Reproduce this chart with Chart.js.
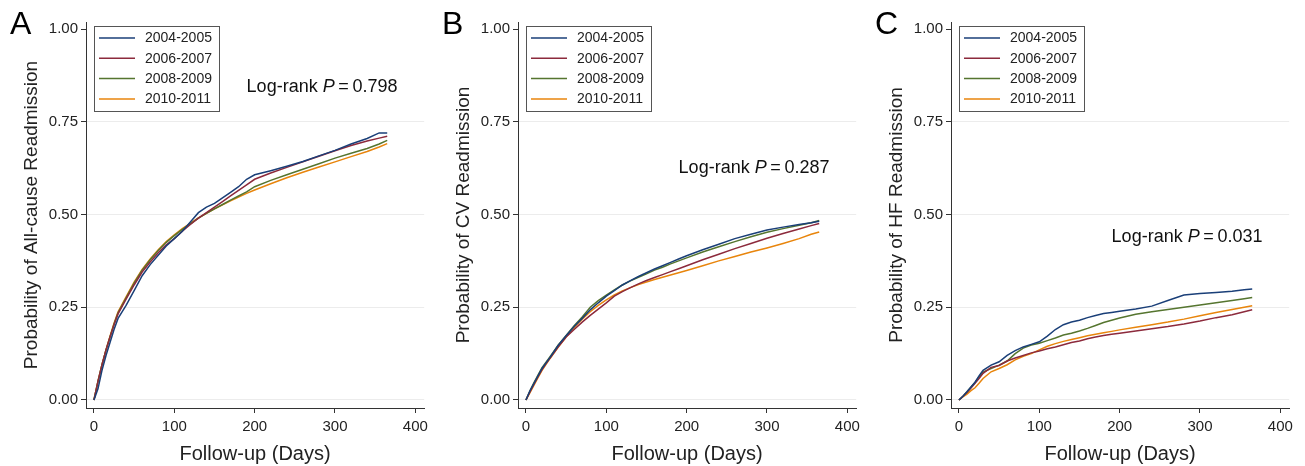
<!DOCTYPE html>
<html>
<head>
<meta charset="utf-8">
<script src="https://cdn.jsdelivr.net/npm/chart.js@4.4.1/dist/chart.umd.min.js"></script>
<style>
    body { margin: 0; background: #fff; }
    #wrap { position: relative; width: 1305px; height: 466px; }
    canvas { position: absolute; top: 0; }
</style>
</head>
<body>
<div id="wrap">
    <canvas id="chartA" width="433" height="466" style="left:0px"></canvas>
    <canvas id="chartB" width="433" height="466" style="left:432px"></canvas>
    <canvas id="chartC" width="433" height="466" style="left:865px"></canvas>
</div>
<script>
const days = [0, 5, 10, 15, 20, 25, 30, 40, 50, 60, 70, 80, 90, 100, 110, 120, 130, 140, 150, 160, 170, 180, 190, 200, 220, 240, 260, 280, 300, 320, 340, 355, 365];

const periods = ['2004-2005', '2006-2007', '2008-2009', '2010-2011'];
const xTicks = [0, 100, 200, 300, 400];
const yTicks = [0, 0.25, 0.5, 0.75, 1];

// A - all-cause readmission
const allCause0405 = [0, 0.03, 0.08, 0.12, 0.155, 0.19, 0.22, 0.255, 0.295, 0.335, 0.365, 0.39, 0.415, 0.435, 0.455, 0.48, 0.505, 0.52, 0.53, 0.545, 0.56, 0.575, 0.595, 0.607, 0.618, 0.63, 0.643, 0.658, 0.673, 0.69, 0.705, 0.72, 0.72];
const allCause0607 = [0, 0.05, 0.095, 0.135, 0.17, 0.203, 0.232, 0.272, 0.31, 0.345, 0.372, 0.397, 0.418, 0.435, 0.455, 0.473, 0.49, 0.505, 0.52, 0.535, 0.55, 0.565, 0.58, 0.595, 0.612, 0.627, 0.642, 0.657, 0.672, 0.686, 0.698, 0.706, 0.711];
const allCause0809 = [0, 0.05, 0.095, 0.135, 0.17, 0.205, 0.235, 0.275, 0.315, 0.35, 0.378, 0.403, 0.425, 0.443, 0.46, 0.475, 0.49, 0.503, 0.515, 0.527, 0.539, 0.55, 0.561, 0.575, 0.592, 0.607, 0.622, 0.637, 0.652, 0.665, 0.678, 0.69, 0.70];
const allCause1011 = [0, 0.05, 0.095, 0.135, 0.172, 0.207, 0.238, 0.278, 0.318, 0.352, 0.38, 0.405, 0.427, 0.445, 0.462, 0.477, 0.491, 0.503, 0.515, 0.526, 0.537, 0.547, 0.557, 0.566, 0.583, 0.599, 0.614, 0.628, 0.642, 0.656, 0.67, 0.682, 0.691];

// B - CV readmission
const cv0405 = [0, 0.025, 0.045, 0.065, 0.085, 0.1, 0.115, 0.147, 0.173, 0.198, 0.22, 0.243, 0.262, 0.28, 0.295, 0.31, 0.322, 0.333, 0.343, 0.353, 0.362, 0.371, 0.38, 0.389, 0.405, 0.42, 0.435, 0.447, 0.458, 0.466, 0.473, 0.478, 0.482];
const cv0607 = [0, 0.022, 0.043, 0.063, 0.082, 0.098, 0.113, 0.143, 0.17, 0.19, 0.21, 0.228, 0.245, 0.262, 0.28, 0.292, 0.303, 0.313, 0.322, 0.33, 0.338, 0.346, 0.354, 0.362, 0.378, 0.393, 0.408, 0.422, 0.436, 0.449, 0.461, 0.47, 0.476];
const cv0809 = [0, 0.025, 0.047, 0.067, 0.087, 0.102, 0.117, 0.148, 0.174, 0.2, 0.224, 0.25, 0.268, 0.283, 0.297, 0.31, 0.321, 0.331, 0.34, 0.35, 0.358, 0.367, 0.375, 0.383, 0.399, 0.413, 0.427, 0.44, 0.452, 0.462, 0.471, 0.478, 0.484];
const cv1011 = [0, 0.02, 0.04, 0.06, 0.08, 0.096, 0.112, 0.142, 0.17, 0.195, 0.218, 0.238, 0.255, 0.27, 0.283, 0.294, 0.303, 0.311, 0.318, 0.325, 0.331, 0.337, 0.343, 0.349, 0.362, 0.375, 0.387, 0.399, 0.41, 0.422, 0.435, 0.447, 0.453];

// C - HF readmission
const hf0405 = [0, 0.01, 0.022, 0.035, 0.048, 0.065, 0.08, 0.094, 0.103, 0.12, 0.133, 0.143, 0.15, 0.157, 0.172, 0.19, 0.203, 0.21, 0.215, 0.222, 0.228, 0.233, 0.236, 0.239, 0.245, 0.253, 0.268, 0.283, 0.287, 0.29, 0.293, 0.297, 0.299];
const hf0607 = [0, 0.01, 0.02, 0.032, 0.045, 0.058, 0.072, 0.088, 0.093, 0.105, 0.113, 0.12, 0.127, 0.132, 0.138, 0.143, 0.149, 0.155, 0.159, 0.165, 0.17, 0.174, 0.177, 0.18, 0.186, 0.192, 0.198, 0.205, 0.213, 0.222, 0.23, 0.238, 0.243];
const hf0809 = [0, 0.01, 0.022, 0.035, 0.047, 0.062, 0.075, 0.085, 0.094, 0.105, 0.125, 0.14, 0.148, 0.153, 0.16, 0.167, 0.175, 0.18, 0.186, 0.193, 0.201, 0.209, 0.215, 0.221, 0.231, 0.238, 0.244, 0.25, 0.256, 0.262, 0.268, 0.273, 0.276];
const hf1011 = [0, 0.008, 0.016, 0.025, 0.033, 0.045, 0.058, 0.076, 0.085, 0.095, 0.108, 0.118, 0.125, 0.135, 0.145, 0.152, 0.158, 0.163, 0.168, 0.173, 0.177, 0.181, 0.185, 0.189, 0.196, 0.203, 0.21, 0.218, 0.227, 0.236, 0.244, 0.25, 0.254];

// log-rank results and where the text sits (days, probability)
const logRankP = ['0.798', '0.287', '0.031'];
const logRankY = [0.844, 0.625, 0.44];
const logRankX = 190;

const colores = ['#1a3f78', '#8c2a3c', '#55752f', '#e8850c'];
const FONT = '"Liberation Sans", Arial, sans-serif';

Chart.defaults.font.family = FONT;
Chart.defaults.color = '#222';

// panel letter, legend box and log-rank text
const decoPlugin = {
    id: 'deco',
    afterDraw(chart, args, opts) {
        const ctx = chart.ctx;
        const area = chart.chartArea;
        ctx.save();

        // big letter
        ctx.fillStyle = '#000';
        ctx.font = '32px ' + FONT;
        ctx.textBaseline = 'top';
        ctx.textAlign = 'left';
        ctx.fillText(opts.letter, 10, 9);

        // legend
        const bx = area.left + 8, by = 26;
        ctx.fillStyle = '#fff';
        ctx.fillRect(bx, by, 125, 85);
        ctx.strokeStyle = '#555';
        ctx.lineWidth = 1;
        ctx.strokeRect(bx + 0.5, by + 0.5, 125, 85);
        ctx.font = '14px ' + FONT;
        ctx.textBaseline = 'middle';
        periods.forEach((p, i) => {
            let y = by + 12 + i * 20.3;
            ctx.strokeStyle = colores[i];
            ctx.lineWidth = 1.5;
            ctx.beginPath();
            ctx.moveTo(bx + 5, y);
            ctx.lineTo(bx + 41, y);
            ctx.stroke();
            ctx.fillStyle = '#222';
            ctx.fillText(p, bx + 51, y + 0.5);
        });

        // log-rank P
        const tx = chart.scales.x.getPixelForValue(logRankX);
        const ty = chart.scales.y.getPixelForValue(opts.py);
        ctx.font = '18px ' + FONT;
        ctx.fillStyle = '#111';
        let s1 = 'Log-rank ';
        ctx.fillText(s1, tx, ty);
        let w1 = ctx.measureText(s1).width;
        ctx.font = 'italic 18px ' + FONT;
        ctx.fillText('P', tx + w1, ty);
        let w2 = ctx.measureText('P').width;
        ctx.font = '18px ' + FONT;
        ctx.fillText('\u2009=\u2009' + opts.p, tx + w1 + w2, ty);
        ctx.restore();
    }
};

function getConfig(series, yTitle, letter, p, py) {
    let datasets = series.map((vals, i) => ({
        label: periods[i],
        data: days.map((d, k) => ({ x: d, y: vals[k] })),
        borderColor: colores[i],
        borderWidth: 1.5,
        pointRadius: 0,
        tension: 0,
        fill: false
    }));
    return {
        type: 'line',
        data: { datasets: datasets },
        options: {
            responsive: false,
            animation: false,
            layout: { padding: { top: 22, right: 6, left: 0, bottom: 0 } },
            plugins: {
                legend: { display: false },
                tooltip: { enabled: false },
                deco: { letter: letter, p: p, py: py }
            },
            scales: {
                x: {
                    type: 'linear',
                    min: -9.9,
                    max: 411,
                    afterBuildTicks: scale => { scale.ticks = xTicks.map(v => ({ value: v })); },
                    afterFit: scale => { scale.height = 58; },
                    grid: { drawOnChartArea: false, tickLength: 5, tickColor: '#333' },
                    border: { color: '#333', width: 1 },
                    ticks: { font: { size: 15 }, padding: 5, maxRotation: 0, color: '#222' },
                    title: { display: true, text: 'Follow-up (Days)', font: { size: 20 }, padding: { top: 0, bottom: 0 }, color: '#222' }
                },
                y: {
                    type: 'linear',
                    min: -0.0216,
                    max: 1.019,
                    afterBuildTicks: scale => { scale.ticks = yTicks.map(v => ({ value: v })); },
                    afterFit: scale => { scale.width = 86; },
                    grid: {
                        color: c => (c.tick && c.tick.value === 1) ? 'rgba(0,0,0,0)' : '#ececec',
                        tickLength: 5,
                        tickColor: '#333'
                    },
                    border: { color: '#333', width: 1 },
                    ticks: { font: { size: 15 }, padding: 3, color: '#222', callback: v => Number(v).toFixed(2) },
                    title: { display: true, text: yTitle, font: { size: 19 }, padding: { top: 20, bottom: 0 }, color: '#222' }
                }
            }
        },
        plugins: [decoPlugin]
    };
}

new Chart(document.getElementById('chartA').getContext('2d'),
    getConfig([allCause0405, allCause0607, allCause0809, allCause1011], 'Probability of All-cause Readmission', 'A', logRankP[0], logRankY[0]));
new Chart(document.getElementById('chartB').getContext('2d'),
    getConfig([cv0405, cv0607, cv0809, cv1011], 'Probability of CV Readmission', 'B', logRankP[1], logRankY[1]));
new Chart(document.getElementById('chartC').getContext('2d'),
    getConfig([hf0405, hf0607, hf0809, hf1011], 'Probability of HF Readmission', 'C', logRankP[2], logRankY[2]));
</script>
</body>
</html>
